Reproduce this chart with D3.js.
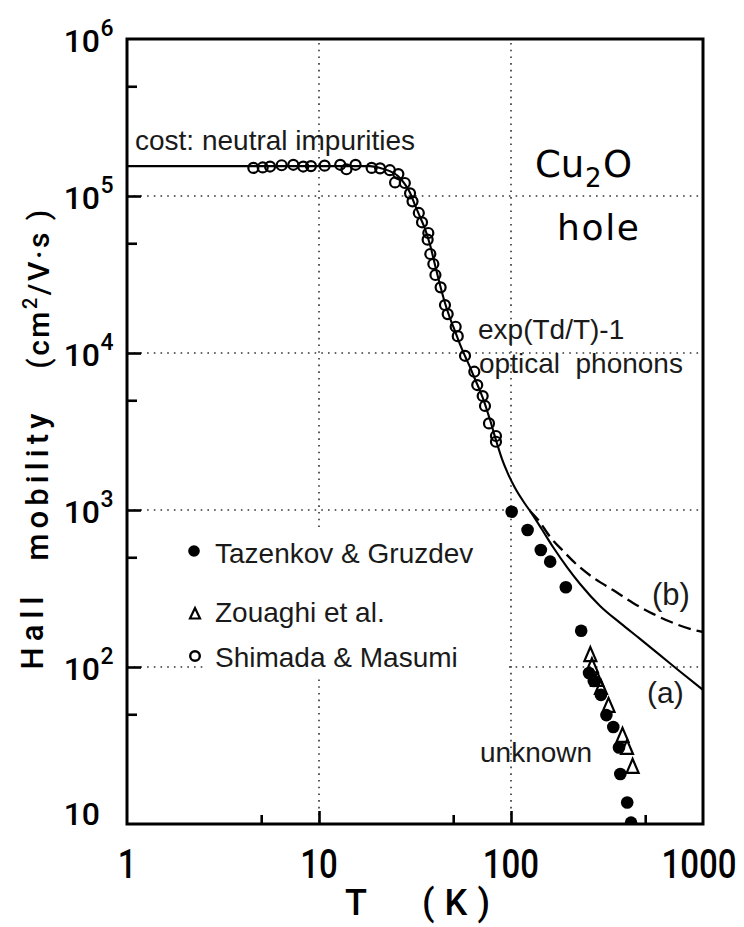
<!DOCTYPE html>
<html><head><meta charset="utf-8">
<script src="https://cdn.jsdelivr.net/npm/d3@7"></script>
<style>body{margin:0;background:#fff}svg{display:block}</style>
</head><body>
<svg id="c" width="744" height="927"></svg>
<script>
// ---------- data ----------
const shimadaT  = [4.55,5.09,5.56,6.39,7.35,8.28,9.08,10.7,12.9,13.9,15.5,18.8,20.8,23.4,25.9,24.9,28.0,29.8,30.7,33.1,34.4,37.1,36.8,38.0,39.4,40.4,43.0,45.3,46.8,51.5,52.8,57.6,64.4,66.7,71.2,73.2,76.8,83.5,83.5];
const shimadaMu = [1.51e5,1.52e5,1.54e5,1.57e5,1.58e5,1.54e5,1.55e5,1.56e5,1.58e5,1.48e5,1.58e5,1.51e5,1.50e5,1.46e5,1.38e5,1.22e5,1.21e5,1.04e5,9.25e4,7.8e4,6.8e4,5.81e4,5.27e4,4.27e4,3.69e4,3.14e4,2.62e4,2.02e4,1.77e4,1.47e4,1.28e4,9.6e3,7.6e3,6.25e3,5.32e3,4.6e3,3.56e3,2.96e3,2.72e3];

const tazenkovT  = [100.8,122,143,160,193,232,255,270,294,314,341,365,371,403,422];
const tazenkovMu = [975,746,556,469,322,170,91.6,81.5,66.4,49.4,41.5,30.7,20.8,13.7,10.2];

const zouaghiT  = [259,264,281,294,322,381,402,430];
const zouaghiMu = [119,101,82.7,73.5,56.5,36.4,30.5,23.1];

const curveA_T  = [1,18.4,20.8,23.4,25.8,28.0,29.8,31.6,33.6,35.7,37.9,40.2,42.7,45.3,48.1,51.1,54.2,57.6,61.1,64.9,69.0,73.2,77.8,83.5,89.8,96.5,105,118,125.6,145,165.5,195.7,229,291,370,470,597,759,1000];
const curveA_Mu = [1.55e5,1.55e5,1.51e5,1.44e5,1.34e5,1.19e5,1.05e5,8.77e4,7.35e4,6.16e4,4.87e4,3.64e4,2.71e4,2.08e4,1.67e4,1.38e4,1.14e4,9.57e3,8.15e3,6.83e3,5.73e3,4.73e3,3.74e3,2.79e3,2.11e3,1.70e3,1.38e3,1.10e3,986,751,581,433,338,245,191,151,119,93.6,71.4];

const curveB_T  = [125.6,138,160,187,221,274,340,432,549,698,898,1000];
const curveB_Mu = [986,870,673,548,447,364,309,256,218,191,172,167];

const xTickLabels = [1,10,100,1000];
const xMajorTicks = [10,100];
const xMinorTicks = [5,50,500];
const yTickValues = [10,1e2,1e3,1e4,1e5,1e6];
const yTickExps   = ["","2","3","4","5","6"];
const yMajorTicks = [1e2,1e3,1e4,1e5];
const yMinorTicks = [50,500,5e3,5e4,5e5];
const gridXValues = [10,100];
const gridYValues = [1e2,1e3,1e4,1e5];

const legendNames = ["Tazenkov & Gruzdev","Zouaghi et al.","Shimada & Masumi"];

// ---------- layout ----------
const L=127,R=703,T=39,B=824;
const svg = d3.select("#c");
const x = d3.scaleLog().domain([1,1000]).range([L,R]);
const y = d3.scaleLog().domain([10,1e6]).range([B,T]);

svg.append("defs").append("clipPath").attr("id","plot")
  .append("rect").attr("x",L).attr("y",T).attr("width",R-L).attr("height",B-T);

// grid
const grid = svg.append("g").attr("stroke","#333").attr("stroke-width",1.6)
  .attr("stroke-dasharray","1.6,5.1").attr("fill","none");
gridXValues.forEach(v=>grid.append("line").attr("x1",x(v)).attr("x2",x(v)).attr("y1",T+4).attr("y2",B));
gridYValues.forEach(v=>grid.append("line").attr("x1",L).attr("x2",R).attr("y1",y(v)).attr("y2",y(v)));
// legend area clears the grid
svg.append("rect").attr("x",207).attr("y",531).attr("width",302).attr("height",147).attr("fill","#fff");

// axes ticks (inward)
function styleAxis(g){ g.select(".domain").remove(); g.selectAll("line").attr("stroke","#000").attr("stroke-width",2.6); }
svg.append("g").attr("transform",`translate(0,${B})`)
  .call(d3.axisBottom(x).tickValues(xMajorTicks).tickSize(-13).tickFormat("")).call(styleAxis);
svg.append("g").attr("transform",`translate(0,${B})`)
  .call(d3.axisBottom(x).tickValues(xMinorTicks).tickSize(-9).tickFormat("")).call(styleAxis);
svg.append("g").attr("transform",`translate(${L},0)`)
  .call(d3.axisLeft(y).tickValues(yMajorTicks).tickSize(-14).tickFormat("")).call(styleAxis);
svg.append("g").attr("transform",`translate(${L},0)`)
  .call(d3.axisLeft(y).tickValues(yMinorTicks).tickSize(-10).tickFormat("")).call(styleAxis);

// curves
const plot = svg.append("g").attr("clip-path","url(#plot)");
const line = d3.line().x(d=>x(d[0])).y(d=>y(d[1])).curve(d3.curveMonotoneX);
plot.append("path").datum(curveA_T.map((t,i)=>[t,curveA_Mu[i]]))
  .attr("d",line).attr("fill","none").attr("stroke","#000").attr("stroke-width",2.1);
plot.append("path").datum(curveB_T.map((t,i)=>[t,curveB_Mu[i]]))
  .attr("d",line).attr("fill","none").attr("stroke","#000").attr("stroke-width",2.3)
  .attr("stroke-dasharray","13,6");

// markers
plot.selectAll(".sh").data(shimadaT.map((t,i)=>[t,shimadaMu[i]])).enter().append("circle")
  .attr("cx",d=>x(d[0])).attr("cy",d=>y(d[1])).attr("r",5)
  .attr("fill","none").attr("stroke","#000").attr("stroke-width",2.2);
plot.selectAll(".tz").data(tazenkovT.map((t,i)=>[t,tazenkovMu[i]])).enter().append("circle")
  .attr("cx",d=>x(d[0])).attr("cy",d=>y(d[1])).attr("r",6.3).attr("fill","#000");
const tri = "M0,-8L6,6L-6,6Z";
plot.selectAll(".zo").data(zouaghiT.map((t,i)=>[t,zouaghiMu[i]])).enter().append("path")
  .attr("d",tri).attr("transform",d=>`translate(${x(d[0])},${y(d[1])})`)
  .attr("fill","none").attr("stroke","#000").attr("stroke-width",2.2);

// frame
svg.append("rect").attr("x",L).attr("y",T).attr("width",R-L).attr("height",B-T)
  .attr("fill","none").attr("stroke","#000").attr("stroke-width",3);

// tick labels
const tickFont = "Roboto, 'DejaVu Sans', sans-serif";
xTickLabels.forEach((v,i)=>{
  svg.append("text").attr("transform",`translate(${x(v)-(i===3?4:0)},878) scale(1,1.22)`)
    .attr("text-anchor","middle").attr("font-family",tickFont).attr("font-size",33)
    .attr("font-weight",500).attr("fill","#000").text(String(v));
});
yTickValues.forEach((v,i)=>{
  const cy = i===0 ? 813 : y(v)+1;
  svg.append("text").attr("x",100).attr("y",cy+12).attr("text-anchor","end")
    .attr("font-family",tickFont).attr("font-size",32).attr("font-weight",500).attr("fill","#000").text("10");
  if(yTickExps[i]) svg.append("text").attr("x",100.5).attr("y",cy-4)
    .attr("font-family",tickFont).attr("font-size",23).attr("font-weight",500).attr("fill","#000").text(yTickExps[i]);
});

// axis titles
const titleFont = "Roboto, 'DejaVu Sans', sans-serif";
[{t:"Hall",cy:633,bx:43,len:73},{t:"mobility",cy:487,bx:48,len:147}].forEach(p=>{
  svg.append("text").attr("transform",`translate(${p.bx},${p.cy}) rotate(-90)`)
    .attr("text-anchor","middle").attr("font-family",titleFont).attr("font-size",31)
    .attr("font-weight",500)
    .attr("textLength",p.len).attr("lengthAdjust","spacing").attr("fill","#000").text(p.t);
});
const unitT = svg.append("text").attr("transform",`translate(49,288) rotate(-90)`)
  .attr("text-anchor","middle").attr("font-family",titleFont).attr("font-size",30)
  .attr("font-weight",500).attr("letter-spacing",2.5).attr("fill","#000");
unitT.append("tspan").text("(cm");
unitT.append("tspan").attr("font-size",20).attr("dy",-12).text("2");
unitT.append("tspan").attr("dy",12).text("/V·s )");

svg.append("text").attr("x",345).attr("y",915).attr("font-family",tickFont).attr("font-size",36)
  .attr("font-weight",500).attr("fill","#000").text("T");
svg.append("text").attr("x",422).attr("y",915).attr("font-family",tickFont).attr("font-size",36)
  .attr("font-weight",500).attr("textLength",68).attr("lengthAdjust","spacing").attr("fill","#000").text("( K )");

// annotations
const annFont = "'Liberation Sans', Arial, sans-serif";
function ann(txt,xx,yy,size){ return svg.append("text").attr("x",xx).attr("y",yy)
  .attr("font-family",annFont).attr("font-size",size||28).attr("fill","#1a1a1a").text(txt); }
ann("cost: neutral impurities",135,150);
ann("exp(Td/T)-1",478,339);
svg.append("text").attr("x",479).attr("y",373).attr("font-family",annFont).attr("font-size",28)
  .attr("fill","#1a1a1a").attr("xml:space","preserve").style("white-space","pre").text("optical  phonons");
ann("(b)",652,605,31);
ann("(a)",647,703,30);
ann("unknown",480,762);

// Cu2O hole
const geo = "'DejaVu Sans', sans-serif";
svg.append("text").attr("x",535).attr("y",177).attr("font-family",geo).attr("font-size",37).attr("fill","#000").text("Cu");
svg.append("text").attr("x",585).attr("y",187).attr("font-family",geo).attr("font-size",26).attr("fill","#000").text("2");
svg.append("text").attr("x",603).attr("y",177).attr("font-family",geo).attr("font-size",37).attr("fill","#000").text("O");
svg.append("text").attr("x",557).attr("y",240).attr("font-family",geo).attr("font-size",36)
  .attr("textLength",82).attr("lengthAdjust","spacing").attr("fill","#000").text("hole");

// legend
const legY = [551,614,656];
const lg = svg.append("g");
lg.append("circle").attr("cx",194).attr("cy",legY[0]).attr("r",5.8).attr("fill","#000");
lg.append("path").attr("d","M0,-6L5,4.5L-5,4.5Z").attr("transform",`translate(195,${legY[1]})`)
  .attr("fill","none").attr("stroke","#000").attr("stroke-width",2.2);
lg.append("circle").attr("cx",195).attr("cy",legY[2]).attr("r",4.8).attr("fill","none")
  .attr("stroke","#000").attr("stroke-width",2.4);
const legBase = [563,622,667];
legendNames.forEach((n,i)=>ann(n,215,legBase[i]));
</script>
</body></html>
